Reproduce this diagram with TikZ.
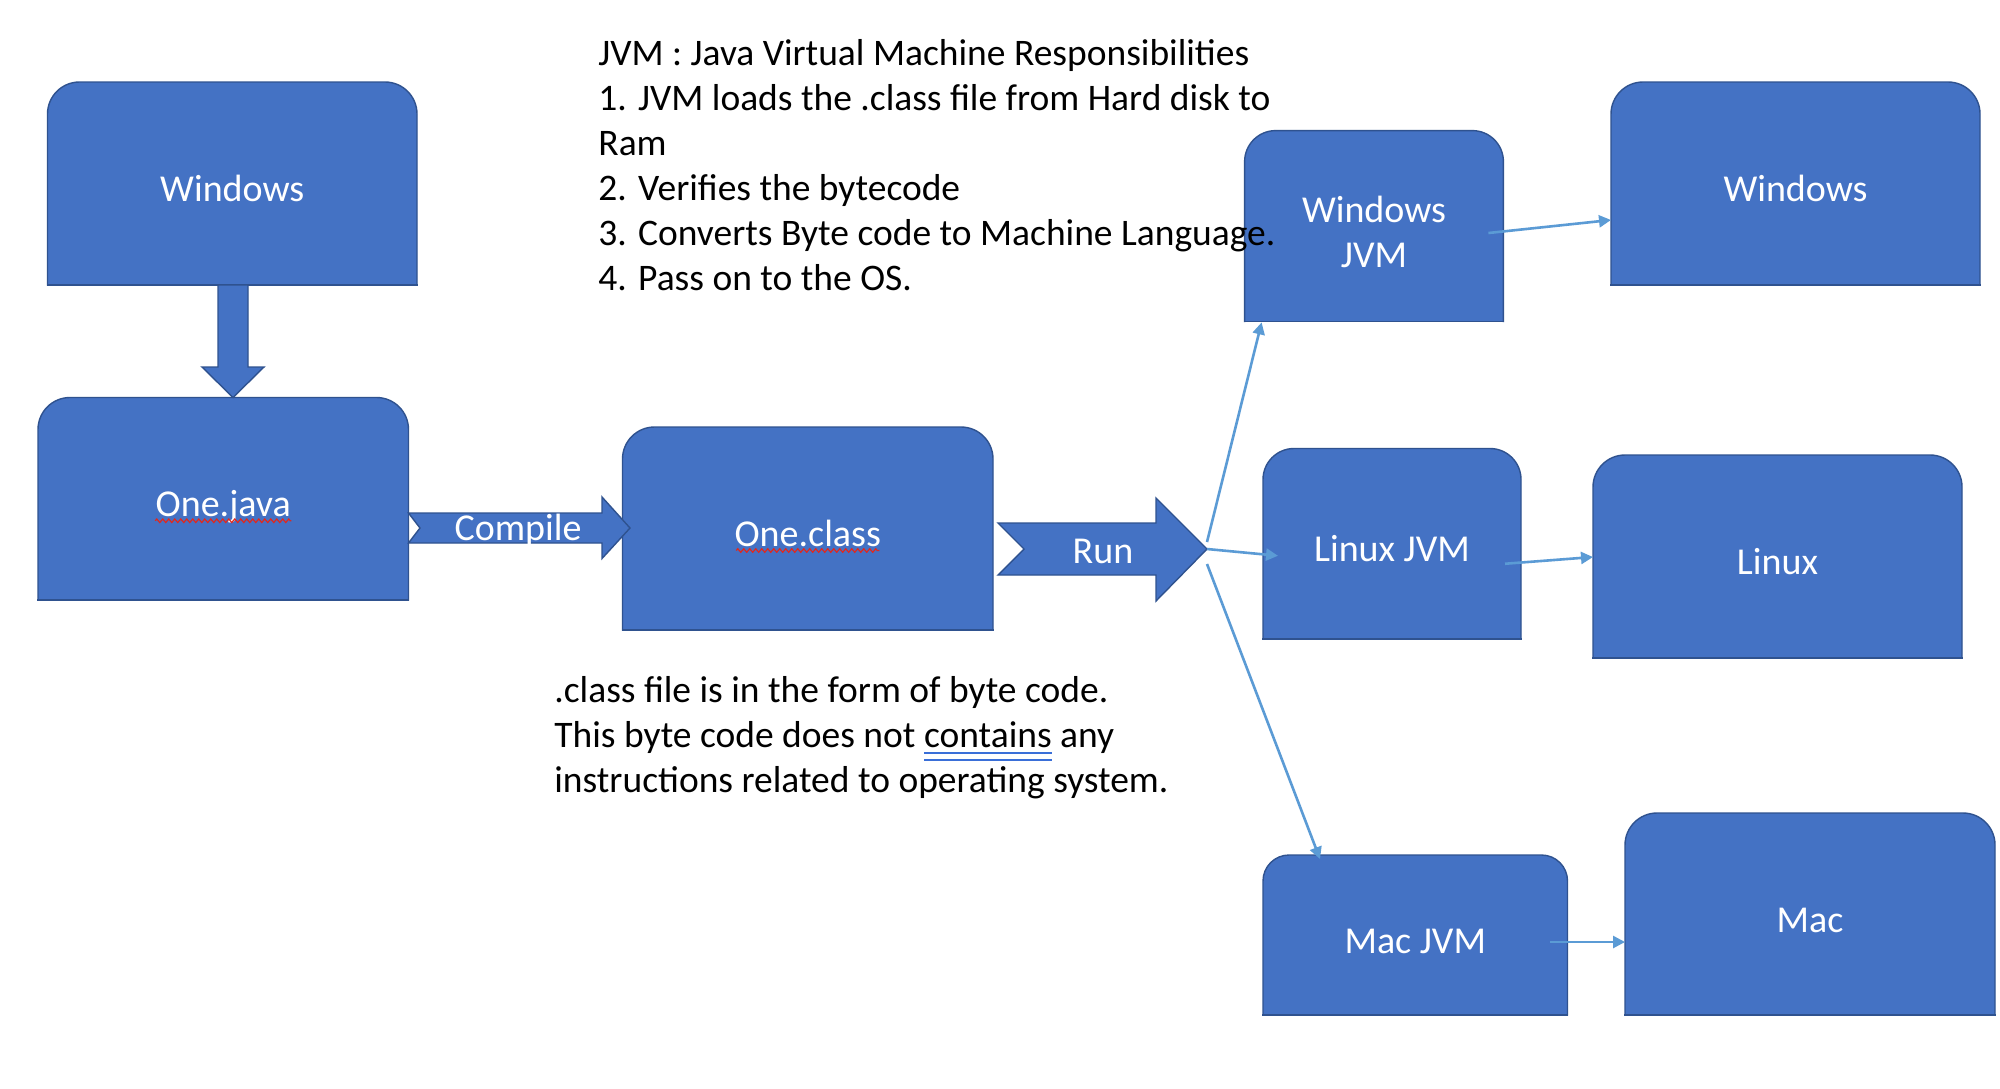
\documentclass[tikz,border=0pt]{standalone}
\usepackage{fontspec}
\setmainfont{Carlito}
\usetikzlibrary{arrows.meta,calc,decorations.pathmorphing,backgrounds}
\definecolor{boxfill}{HTML}{4472C4}
\definecolor{boxline}{HTML}{2F528F}
\definecolor{conn}{HTML}{5B9BD5}
\definecolor{squig}{HTML}{E0281E}
\definecolor{gramc}{HTML}{3A6FD8}
\newlength\gramwd
\newcommand\gramul[1]{\settowidth\gramwd{#1}\rlap{\textcolor{gramc}{\rule[-3.4pt]{\gramwd}{0.75pt}}}\rlap{\textcolor{gramc}{\rule[-6.9pt]{\gramwd}{0.75pt}}}#1}
\newcommand\osbox[2]{%
  \begin{scope}[on background layer]
    \filldraw[boxshape,rounded corners=#2] (#1.south west) -- (#1.north west) -- (#1.north east) -- (#1.south east);
    \draw[boxshape] (#1.south west) -- (#1.south east);
  \end{scope}}
\begin{document}
\begin{tikzpicture}[x=0.5pt,y=-0.5pt,
  boxshape/.style={fill=boxfill,draw=boxline,line width=0.7pt,line cap=rect},
  blockarrow/.style={fill=boxfill,draw=boxline,line width=0.7pt,line join=miter},
  osnode/.style={inner sep=0pt,outer sep=0pt,text=white,
    font=\fontsize{19}{22.5}\selectfont,text height=18pt,text depth=0pt},
  lbl/.style={inner sep=0pt,text=white,font=\fontsize{19}{22.5}\selectfont},
  txt/.style={inner sep=0pt,align=left,text=black,font=\fontsize{18.75}{22.5}\selectfont},
  conn/.style={draw=conn,line width=1.3pt,-{Triangle[length=6pt,width=6pt]}},
  squigst/.style={draw=squig,line width=0.6pt,decorate,
    decoration={zigzag,segment length=3pt,amplitude=0.9pt}}]
\useasboundingbox (0,0) rectangle (2000,1088);
\begin{scope}[on background layer]
  \fill[white] (0,0) rectangle (2000,1088);
\end{scope}

% OS / file boxes
\node[osnode,minimum width=184.75pt,minimum height=101.5pt] (win1) at (232.25,183.5) {Windows};
\node[osnode,minimum width=185.25pt,minimum height=101.25pt] (onejava) at (223.25,498.75) {One.java};
\node[osnode,minimum width=185.25pt,minimum height=101.5pt] (oneclass) at (807.75,528.5) {One.class};
\node[inner sep=0pt,minimum width=129pt,minimum height=95pt] (wjvm) at (1374,226) {};
\node[osnode,minimum width=184.5pt,minimum height=101.5pt] (win2) at (1795.5,183.5) {Windows};
\node[osnode,minimum width=129pt,minimum height=95.25pt] (ljvm) at (1392,543.75) {Linux JVM};
\node[osnode,minimum width=184.5pt,minimum height=101.5pt] (linux) at (1777.5,556.5) {Linux};
\node[osnode,minimum width=152.25pt,minimum height=80pt] (macjvm) at (1415.25,935) {Mac JVM};
\node[osnode,minimum width=185pt,minimum height=101pt] (mac) at (1810,914) {Mac};

\osbox{win1}{16pt}
\osbox{onejava}{16pt}
\osbox{oneclass}{16pt}
\osbox{wjvm}{15.5pt}
\osbox{win2}{16pt}
\osbox{ljvm}{15.5pt}
\osbox{linux}{16pt}
\osbox{macjvm}{13pt}
\osbox{mac}{16pt}

\node[lbl,align=center] (wjvmtext) at (1374,231.5) {Windows\\JVM};

% spelling / grammar marks
\draw[squigst] ($(onejava.center)+(-68,22)$) -- ($(onejava.center)+(68,22)$);
\draw[squigst] ($(oneclass.center)+(-71.5,22)$) -- ($(oneclass.center)+(71.5,22)$);

% block arrows
\draw[blockarrow] (218,285) -- (218,367) -- (202,367) -- (233,397.5) -- (264,367) -- (248,367) -- (248,285) -- cycle;
\draw[blockarrow] (408.5,513) -- (602,513) -- (602,497) -- (630,528) -- (602,558.5) -- (602,543) -- (408.5,543) -- (420,528) -- cycle;
\draw[blockarrow] (998,523) -- (1156,523) -- (1156,498) -- (1207,549) -- (1156,601) -- (1156,575) -- (998,575) -- (1024,549) -- cycle;
\node[lbl,anchor=base] (compiletxt) at (518,540) {Compile};
\node[lbl,anchor=base] (runtxt) at (1103,563.5) {Run};

% connectors
\coordinate (runup) at (1207,542);
\coordinate (runtip) at (1207,549);
\coordinate (rundown) at (1207,564);
\draw[conn] (runup) -- ($(wjvm.south west)+(17,1)$);
\draw[conn] (runtip) -- ($(ljvm.west)+(15,12)$);
\draw[conn] (rundown) -- ($(macjvm.north west)+(57,4)$);
\draw[conn] ($(wjvm.east)+(-15,7)$) -- ($(win2.west)+(0,36.5)$);
\draw[conn] ($(ljvm.east)+(-16,20)$) -- ($(linux.west)+(0,0.5)$);
\draw[conn] ($(macjvm.east)+(-18,7)$) -- ($(mac.west)+(0,28)$);

% texts (base anchor = baseline of the last line)
\node[txt,anchor=base west] (resp) at (598,290) {JVM : Java Virtual Machine Responsibilities\\
1. JVM loads the .class file from Hard disk to\\
Ram\\
2. Verifies the bytecode\\
3. Converts Byte code to Machine Language.\\
4. Pass on to the OS.};
\node[txt,anchor=base west] (bytecode) at (554,792) {.class file is in the form of byte code.\\
This byte code does not \gramul{contains} any\\
instructions related to operating system.};
\end{tikzpicture}
\end{document}
